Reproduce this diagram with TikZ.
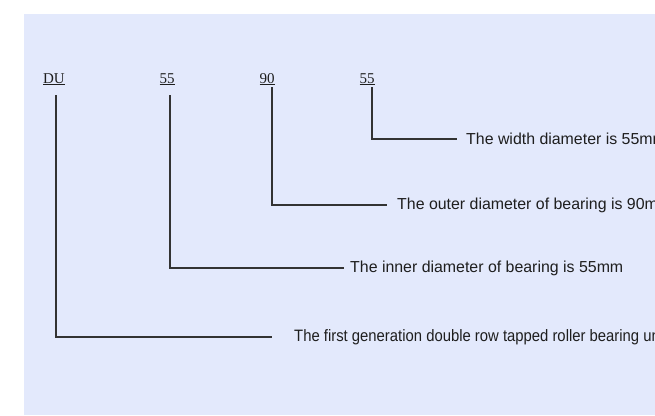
\documentclass[tikz,border=0pt]{standalone}
\usepackage{fontspec}
\setmainfont{Liberation Serif}
\newfontfamily\sansf{Liberation Sans}
\newfontfamily\narrowf[FakeStretch=0.9]{Liberation Sans}
\definecolor{bgblue}{HTML}{E3E9FC}
\definecolor{linegray}{HTML}{333333}
\definecolor{txt}{HTML}{1E1E1E}
\tikzset{
  code/.style={inner sep=0pt, anchor=base, text=txt, font=\fontsize{15}{17}\selectfont},
  desc/.style={inner sep=0pt, anchor=west, text=txt, font=\sansf\fontsize{15.9}{18}\selectfont},
  descn/.style={inner sep=0pt, anchor=west, text=txt, font=\narrowf\fontsize{16.5}{18}\selectfont},
  lead/.style={draw=linegray, line width=1.1pt}
}
\begin{document}
\begin{tikzpicture}[x=1pt,y=-1pt]
\useasboundingbox (0,0) rectangle (655,415);
\clip (0,0) rectangle (655,415);
\fill[bgblue] (24,14) rectangle (655,415);
\node[code] (du) at (54,83) {\underline{DU}};
\node[code] (c55a) at (167,83) {\underline{55}};
\node[code] (c90) at (267,83) {\underline{90}};
\node[code] (c55b) at (367,83) {\underline{55}};
\node[desc] (tw) at (466,139) {The width diameter is 55mm};
\node[desc] (to) at (397,205) {The outer diameter of bearing is 90mm};
\node[desc] (ti) at (350,268) {The inner diameter of bearing is 55mm};
\node[descn] (tf) at (294,337) {The first generation double row tapped roller bearing unit};
\draw[lead] (56,95) coordinate (s1) |- ([xshift=-22pt]tf.west);
\draw[lead] (170,95) coordinate (s2) |- ([xshift=-6pt]ti.west);
\draw[lead] (272,87) coordinate (s3) |- ([xshift=-10pt]to.west);
\draw[lead] (372,87) coordinate (s4) |- ([xshift=-9pt]tw.west);
\end{tikzpicture}
\end{document}
